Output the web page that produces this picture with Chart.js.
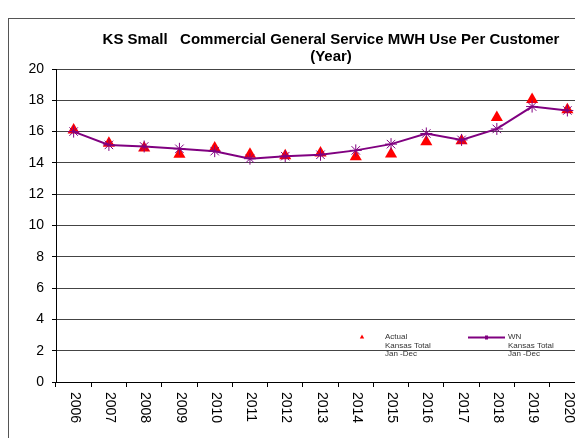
<!DOCTYPE html>
<html>
<head>
<meta charset="utf-8">
<script src="https://cdn.jsdelivr.net/npm/chart.js@4"></script>
<style>
  body { margin: 0; background: #fff; }
  #wrap { position: relative; width: 575px; height: 438px; overflow: hidden; }
  #frame { position: absolute; left: 8px; top: 18px; width: 600px; height: 440px;
           border-left: 1px solid #555; border-top: 1px solid #555; }
  #chart { position: absolute; left: 0; top: 0; }
</style>
</head>
<body>
<div id="wrap">
  <div id="frame"></div>
  <canvas id="chart" width="662" height="438"></canvas>
</div>
<script>
const years = ['2006', '2007', '2008', '2009', '2010', '2011', '2012', '2013',
               '2014', '2015', '2016', '2017', '2018', '2019', '2020'];
const actual = [16.1, 15.25, 14.95, 14.55, 14.95, 14.55, 14.46, 14.63,
                14.4, 14.57, 15.35, 15.42, 16.9, 18.05, 17.4];
const weatherNormal = [16.0, 15.15, 15.05, 14.9, 14.75, 14.27, 14.43, 14.52,
                       14.8, 15.2, 15.88, 15.47, 16.17, 17.6, 17.35];
const yTicks = [0, 2, 4, 6, 8, 10, 12, 14, 16, 18, 20];

const FONT = '"Liberation Sans", Arial, sans-serif';

// x labels read top-to-bottom, so they are drawn by hand
const xLabels = {
    id: 'xLabels',
    afterDraw(chart) {
        const ctx = chart.ctx;
        const x = chart.scales.x;
        ctx.save();
        ctx.font = '14px ' + FONT;
        ctx.fillStyle = '#000';
        ctx.textAlign = 'left';
        ctx.textBaseline = 'middle';
        years.forEach((y, i) => {
            ctx.save();
            ctx.translate(x.getPixelForTick(i) + 1, x.top + 10);
            ctx.rotate(Math.PI / 2);
            ctx.fillText(y, 0, 0);
            ctx.restore();
        });
        ctx.restore();
    }
};

// small legend inside the plot
const innerLegend = {
    id: 'innerLegend',
    afterDraw(chart) {
        const ctx = chart.ctx;
        ctx.save();
        ctx.fillStyle = '#ff0000';
        ctx.beginPath();
        ctx.moveTo(362, 334.5);
        ctx.lineTo(364.2, 338.5);
        ctx.lineTo(359.8, 338.5);
        ctx.closePath();
        ctx.fill();

        ctx.strokeStyle = '#800080';
        ctx.lineWidth = 2;
        ctx.beginPath();
        ctx.moveTo(468, 337.5);
        ctx.lineTo(505, 337.5);
        ctx.stroke();
        ctx.fillStyle = '#800080';
        ctx.fillRect(485, 335.5, 3, 4);

        ctx.font = '8px ' + FONT;
        ctx.fillStyle = '#333';
        ctx.textBaseline = 'middle';
        ['Actual', 'Kansas Total', 'Jan -Dec'].forEach((t, i) => ctx.fillText(t, 385, 337 + i * 8.5));
        ['WN', 'Kansas Total', 'Jan -Dec'].forEach((t, i) => ctx.fillText(t, 508, 337 + i * 8.5));
        ctx.restore();
    }
};

new Chart(document.getElementById('chart').getContext('2d'), {
    type: 'line',
    data: {
        labels: years,
        datasets: [{
            label: 'WN Kansas Total Jan -Dec',
            data: weatherNormal,
            borderColor: '#800080',
            backgroundColor: '#800080',
            borderWidth: 2,
            pointStyle: 'star',
            pointRadius: 6,
            pointBorderWidth: 1,
            tension: 0
        }, {
            label: 'Actual Kansas Total Jan -Dec',
            data: actual,
            showLine: false,
            borderColor: '#ff0000',
            backgroundColor: '#ff0000',
            pointStyle: 'triangle',
            pointRadius: 7,
            pointBorderWidth: 0
        }]
    },
    options: {
        responsive: false,
        animation: false,
        layout: { padding: 0 },
        plugins: {
            legend: { display: false },
            tooltip: { enabled: false },
            title: {
                display: true,
                text: ['KS Small   Commercial General Service MWH Use Per Customer', '(Year)'],
                color: '#000',
                font: { family: FONT, size: 15, weight: 'bold', lineHeight: 1.15 },
                padding: { top: 31, bottom: 3.5 }
            }
        },
        scales: {
            x: {
                type: 'category',
                offset: true,
                grid: { display: true, drawOnChartArea: false, offset: true, color: '#000', tickLength: 5 },
                border: { color: '#000', width: 1 },
                ticks: { display: false },
                afterFit: s => { s.height = 56; }
            },
            y: {
                min: 0,
                max: 20,
                afterBuildTicks: s => { s.ticks = yTicks.map(v => ({ value: v })); },
                grid: { color: '#444', tickLength: 4, tickColor: '#000' },
                border: { color: '#000', width: 1 },
                ticks: { color: '#000', padding: 8, font: { family: FONT, size: 14 } },
                afterFit: s => { s.width = 56; }
            },
            spacer: {
                position: 'right',
                display: true,
                grid: { display: false },
                border: { display: false },
                ticks: { display: false },
                afterFit: s => { s.width = 77; }
            }
        }
    },
    plugins: [xLabels, innerLegend]
});
</script>
</body>
</html>
